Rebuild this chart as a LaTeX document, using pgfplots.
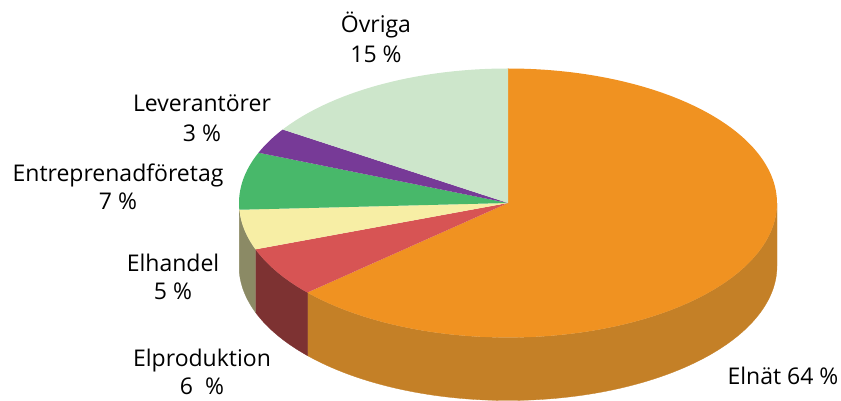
\documentclass[border=0pt]{standalone}
\usepackage{pgfplots}
\pgfplotsset{compat=1.18}
\usepgfplotslibrary{fillbetween}
\usepackage{fontspec}
\setmainfont{Open Sans}
\definecolor{cElnat}{HTML}{F09221}
\definecolor{sElnat}{HTML}{C48027}
\definecolor{cElprod}{HTML}{D75454}
\definecolor{sElprod}{HTML}{7D3232}
\definecolor{cElhandel}{HTML}{F7EEA5}
\definecolor{sElhandel}{HTML}{8B8A65}
\definecolor{cEntr}{HTML}{48B86A}
\definecolor{cLev}{HTML}{773A97}
\definecolor{cOvriga}{HTML}{CDE6CB}
% shares in per cent, counter-clockwise from twelve o'clock
\def\pOvriga{15.8}%
\def\pLev{3.1}%
\def\pEntr{6.9}%
\def\pElhandel{4.8}%
\def\pElprod{6.0}%
\def\pElnat{63.4}%
\pgfmathsetmacro\aA{90+3.6*\pOvriga}%
\pgfmathsetmacro\aB{\aA+3.6*\pLev}%
\pgfmathsetmacro\aC{\aB+3.6*\pEntr}%
\pgfmathsetmacro\aD{\aC+3.6*\pElhandel}%
\pgfmathsetmacro\aE{\aD+3.6*\pElprod}%
\pgfmathsetmacro\aF{\aE+3.6*\pElnat}%
\begin{document}%
\begin{tikzpicture}
\begin{axis}[at={(0,0)},anchor=south west,width=841pt,height=401pt,scale only axis,
  xmin=0,xmax=841,ymin=0,ymax=401,axis lines=none,xtick=\empty,ytick=\empty,clip=false]
% sides
\addplot[name path=t1,draw=none,domain=\aE:360,samples=100] ({508+269*cos(x)},{198+134.5*sin(x)});
\addplot[name path=b1,draw=none,domain=\aE:360,samples=100] ({508+269*cos(x)},{135+134.5*sin(x)});
\addplot[fill=sElnat,draw=sElnat,line width=0.3pt] fill between[of=t1 and b1];
\addplot[name path=t2,draw=none,domain=\aD:\aE,samples=30] ({508+269*cos(x)},{198+134.5*sin(x)});
\addplot[name path=b2,draw=none,domain=\aD:\aE,samples=30] ({508+269*cos(x)},{135+134.5*sin(x)});
\addplot[fill=sElprod,draw=sElprod,line width=0.3pt] fill between[of=t2 and b2];
\addplot[name path=t3,draw=none,domain=\aC:\aD,samples=30] ({508+269*cos(x)},{198+134.5*sin(x)});
\addplot[name path=b3,draw=none,domain=\aC:\aD,samples=30] ({508+269*cos(x)},{135+134.5*sin(x)});
\addplot[fill=sElhandel,draw=sElhandel,line width=0.3pt] fill between[of=t3 and b3];
% tops
\addplot[fill=cElnat,draw=none,domain=\aE:\aF,samples=150] ({508+269*cos(x)},{198+134.5*sin(x)}) -- (axis cs:508,198) -- cycle;
\addplot[fill=cElprod,draw=none,domain=\aD:\aE,samples=30] ({508+269*cos(x)},{198+134.5*sin(x)}) -- (axis cs:508,198) -- cycle;
\addplot[fill=cElhandel,draw=none,domain=\aC:\aD,samples=30] ({508+269*cos(x)},{198+134.5*sin(x)}) -- (axis cs:508,198) -- cycle;
\addplot[fill=cEntr,draw=none,domain=\aB:\aC,samples=30] ({508+269*cos(x)},{198+134.5*sin(x)}) -- (axis cs:508,198) -- cycle;
\addplot[fill=cLev,draw=none,domain=\aA:\aB,samples=20] ({508+269*cos(x)},{198+134.5*sin(x)}) -- (axis cs:508,198) -- cycle;
\addplot[fill=cOvriga,draw=none,domain=90:\aA,samples=50] ({508+269*cos(x)},{198+134.5*sin(x)}) -- (axis cs:508,198) -- cycle;
% labels
\tikzset{lbl/.style={anchor=base,inner sep=0pt,font=\fontsize{23}{27}\selectfont,text=black}}
\node[lbl] at (axis cs:376,368) {Övriga};
\node[lbl] at (axis cs:376,338) {15 \%};
\node[lbl] at (axis cs:202,289) {Leverantörer};
\node[lbl] at (axis cs:202,259) {3 \%};
\node[lbl] at (axis cs:118,219) {Entreprenadföretag};
\node[lbl] at (axis cs:118,191) {7 \%};
\node[lbl] at (axis cs:173,129) {Elhandel};
\node[lbl] at (axis cs:173,101) {5 \%};
\node[lbl] at (axis cs:202,34) {Elproduktion};
\node[lbl] at (axis cs:202,6) {6\ \ \%};
\node[lbl] at (axis cs:783,16) {Elnät 64 \%};
\end{axis}
\pgfresetboundingbox
\useasboundingbox (0,0) rectangle (841pt,401pt);
\end{tikzpicture}%
\end{document}
